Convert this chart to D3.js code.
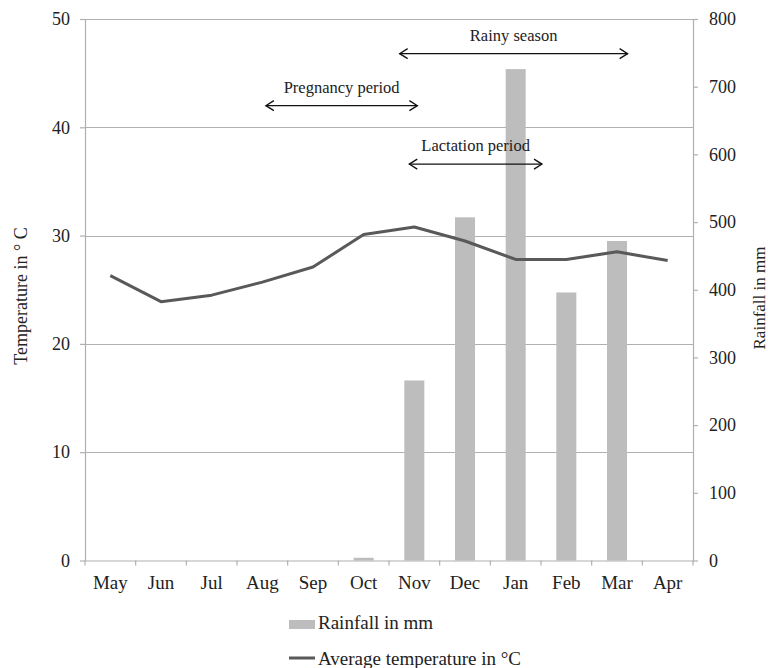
<!DOCTYPE html>
<html>
<head>
<meta charset="utf-8">
<script src="https://cdn.jsdelivr.net/npm/d3@7"></script>
<style>
  html, body { margin: 0; padding: 0; background: #fff; }
  svg { display: block; font-family: "Liberation Serif", "Times New Roman", serif; }
</style>
</head>
<body>
<svg id="chart" width="768" height="668"></svg>
<script>
// Monthly climate data
const months = ["May", "Jun", "Jul", "Aug", "Sep", "Oct", "Nov", "Dec", "Jan", "Feb", "Mar", "Apr"];
const rainfall = [0, 0, 0, 0, 0, 4, 266, 507, 726, 396, 472, 0];
const temperature = [26.3, 23.9, 24.5, 25.7, 27.1, 30.1, 30.8, 29.5, 27.8, 27.8, 28.5, 27.7];
const tempTicks = [0, 10, 20, 30, 40, 50];
const rainTicks = [0, 100, 200, 300, 400, 500, 600, 700, 800];

// Period annotations, positions in month units (0 = first month centre)
const periods = [
  { label: "Rainy season", from: 5.71, to: 10.21, row: 0 },
  { label: "Pregnancy period", from: 3.07, to: 6.06, row: 1 },
  { label: "Lactation period", from: 5.9, to: 8.52, row: 2 }
];
const periodRowTemp = [46.8, 42.0, 36.6];

const svg = d3.select("#chart");
const plotLeft = 85, plotRight = 693, plotTop = 19, plotBottom = 560.5;

const x = d3.scaleBand().domain(months).range([plotLeft, plotRight]).paddingInner(0).paddingOuter(0);
const yT = d3.scaleLinear().domain([0, 50]).range([plotBottom, plotTop]);
const yR = d3.scaleLinear().domain([0, 800]).range([plotBottom, plotTop]);
const xm = d3.scaleLinear().domain([0, 1]).range([x(months[0]) + x.bandwidth() / 2, x(months[1]) + x.bandwidth() / 2]);

const gridColor = "#b0b0b0";
const textColor = "#222";

// horizontal gridlines
svg.append("g")
  .selectAll("line")
  .data(tempTicks.filter(d => d > 0))
  .join("line")
  .attr("x1", plotLeft).attr("x2", plotRight)
  .attr("y1", d => Math.round(yT(d)) + 0.5).attr("y2", d => Math.round(yT(d)) + 0.5)
  .attr("stroke", gridColor).attr("stroke-width", 1.2);

// bars
const barW = 20;
svg.append("g")
  .selectAll("rect")
  .data(months.map((m, i) => ({ m, v: rainfall[i] })).filter(d => d.v > 0))
  .join("rect")
  .attr("x", d => x(d.m) + x.bandwidth() / 2 - barW / 2)
  .attr("width", barW)
  .attr("y", d => yR(d.v))
  .attr("height", d => yR(0) - yR(d.v))
  .attr("fill", "#bdbdbd");

// axes
function styleAxis(size) {
  return g => {
    g.select(".domain").attr("stroke", gridColor).attr("stroke-width", 1.2);
    g.selectAll(".tick line").attr("stroke", gridColor).attr("stroke-width", 1.2);
    g.selectAll(".tick text").attr("fill", textColor).style("font-size", size + "px")
      .style("font-family", "'Liberation Serif', serif");
  };
}

svg.append("g")
  .attr("transform", `translate(${plotLeft},0)`)
  .call(d3.axisLeft(yT).tickValues(tempTicks).tickSize(5).tickPadding(10).tickSizeOuter(0))
  .call(styleAxis(18));

svg.append("g")
  .attr("transform", `translate(${plotRight},0)`)
  .call(d3.axisRight(yR).tickValues(rainTicks).tickSize(5).tickPadding(11).tickSizeOuter(0))
  .call(styleAxis(18));

const xAxis = svg.append("g")
  .attr("transform", `translate(0,${plotBottom})`)
  .call(d3.axisBottom(x).tickSize(0).tickPadding(15))
  .call(styleAxis(19));
// tick marks sit between month categories
xAxis.selectAll(".sep")
  .data(d3.range(months.length + 1))
  .join("line")
  .attr("class", "sep")
  .attr("x1", i => plotLeft + i * x.bandwidth()).attr("x2", i => plotLeft + i * x.bandwidth())
  .attr("y1", 0).attr("y2", 5)
  .attr("stroke", gridColor).attr("stroke-width", 1.2);

// temperature line
svg.append("path")
  .datum(temperature)
  .attr("fill", "none")
  .attr("stroke", "#595959")
  .attr("stroke-width", 3)
  .attr("stroke-linejoin", "round")
  .attr("d", d3.line()
    .x((d, i) => x(months[i]) + x.bandwidth() / 2)
    .y(d => yT(d)));

// period arrows
const ann = svg.append("g");
periods.forEach(p => {
  const y = yT(periodRowTemp[p.row]);
  const x1 = xm(p.from), x2 = xm(p.to);
  ann.append("line").attr("x1", x1).attr("x2", x2).attr("y1", y).attr("y2", y)
    .attr("stroke", "#111").attr("stroke-width", 1.3);
  ann.append("path")
    .attr("d", `M${x1 + 8},${y - 5} L${x1},${y} L${x1 + 8},${y + 5}`)
    .attr("fill", "none").attr("stroke", "#111").attr("stroke-width", 1.3);
  ann.append("path")
    .attr("d", `M${x2 - 8},${y - 5} L${x2},${y} L${x2 - 8},${y + 5}`)
    .attr("fill", "none").attr("stroke", "#111").attr("stroke-width", 1.3);
  ann.append("text")
    .attr("x", (x1 + x2) / 2).attr("y", y - 13)
    .attr("text-anchor", "middle")
    .attr("fill", textColor)
    .style("font-size", "16.5px")
    .text(p.label);
});

// axis titles
svg.append("text")
  .attr("transform", `translate(27,296) rotate(-90)`)
  .attr("text-anchor", "middle")
  .attr("fill", textColor)
  .style("font-size", "18px")
  .text("Temperature in ° C");

svg.append("text")
  .attr("transform", `translate(765,298) rotate(-90)`)
  .attr("text-anchor", "middle")
  .attr("fill", textColor)
  .style("font-size", "17px")
  .text("Rainfall in mm");

// legend
const lg = svg.append("g");
lg.append("rect").attr("x", 289).attr("y", 620).attr("width", 26).attr("height", 9).attr("fill", "#bdbdbd");
lg.append("text").attr("x", 318).attr("y", 629).attr("fill", textColor).style("font-size", "19px").text("Rainfall in mm");
lg.append("line").attr("x1", 289).attr("x2", 315).attr("y1", 658).attr("y2", 658)
  .attr("stroke", "#595959").attr("stroke-width", 3);
lg.append("text").attr("x", 318).attr("y", 665).attr("fill", textColor).style("font-size", "19px").text("Average temperature in °C");
</script>
</body>
</html>
